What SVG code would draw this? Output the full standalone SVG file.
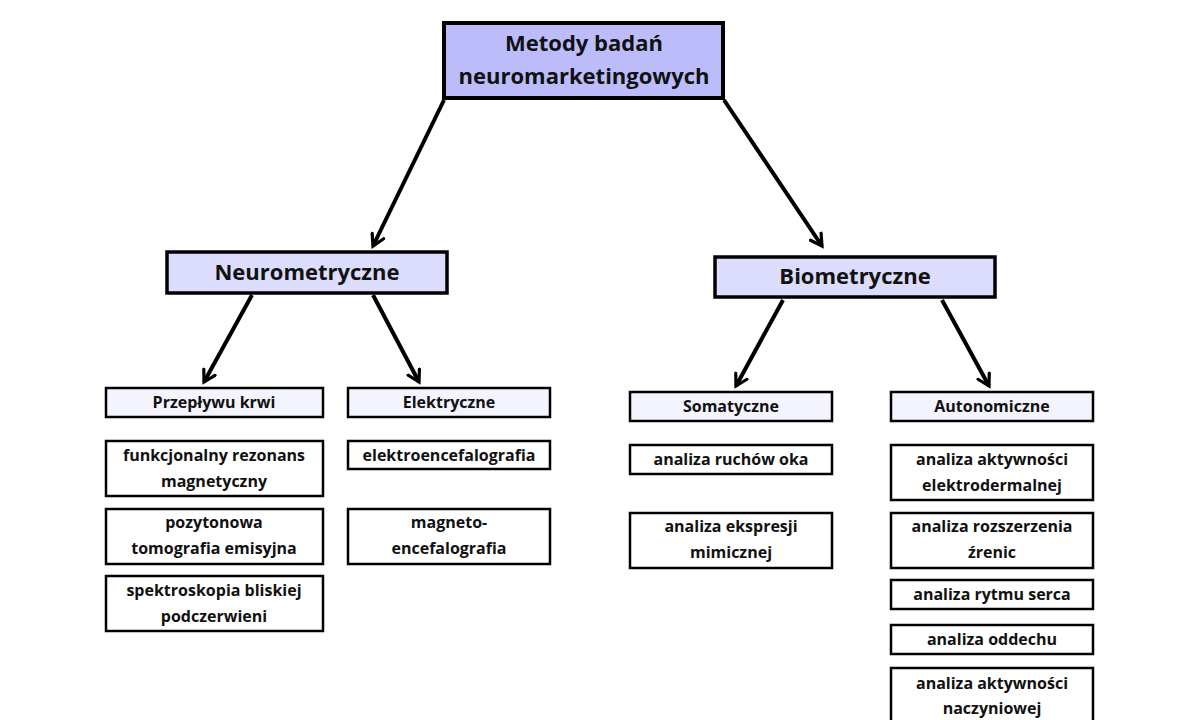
<svg xmlns="http://www.w3.org/2000/svg" width="1200" height="720" viewBox="0 0 1200 720">
<style>
text{font-family:"Open Sans","Noto Sans","DejaVu Sans",sans-serif;font-weight:bold;fill:#111;text-anchor:middle}
.b{stroke:#000;stroke-width:2.5;fill:#fff}
.l3{fill:#f4f4fe}
.l2{fill:#dcdcfc;stroke-width:3.5}
.l1{fill:#bcbcfb;stroke-width:4}
.s{font-size:16px}
.c line{stroke:#000;stroke-width:4}
</style>
<defs><marker id="a" viewBox="0 0 10 10" refX="8" refY="5" markerWidth="4" markerHeight="4" orient="auto" markerUnits="strokeWidth"><polyline points="1,1 8,5 1,9" fill="none" stroke="#000" stroke-width="2" stroke-linecap="round"/></marker></defs>
<rect width="1200" height="720" fill="#fff"/>
<g class="c">
<line x1="444" y1="100" x2="373" y2="246" marker-end="url(#a)"/>
<line x1="724" y1="100" x2="822" y2="246" marker-end="url(#a)"/>
<line x1="252" y1="295" x2="204" y2="382" marker-end="url(#a)"/>
<line x1="373" y1="295" x2="419" y2="382" marker-end="url(#a)"/>
<line x1="783" y1="300" x2="736" y2="386" marker-end="url(#a)"/>
<line x1="942" y1="300" x2="989" y2="386" marker-end="url(#a)"/>
</g>
<g id="root"><rect class="b l1" x="444" y="23" width="279" height="75"/><text x="584" y="51" font-size="22">Metody badań</text><text x="584" y="84" font-size="22">neuromarketingowych</text></g>
<g id="neuro"><rect class="b l2" x="167" y="252" width="280" height="41"/><text x="307" y="280" font-size="22">Neurometryczne</text></g>
<g id="bio"><rect class="b l2" x="715" y="257" width="280" height="40"/><text x="855" y="284" font-size="22">Biometryczne</text></g>
<g id="przeplyw"><rect class="b l3" x="106" y="388" width="217" height="29"/><text class="s" x="214" y="408">Przepływu krwi</text></g>
<g id="elektr"><rect class="b l3" x="348" y="388" width="202" height="29"/><text class="s" x="449" y="408">Elektryczne</text></g>
<g id="somat"><rect class="b l3" x="630" y="392" width="202" height="29"/><text class="s" x="731" y="412">Somatyczne</text></g>
<g id="auton"><rect class="b l3" x="891" y="392" width="202" height="29"/><text class="s" x="992" y="412">Autonomiczne</text></g>
<g id="fmri"><rect class="b" x="106" y="441" width="217" height="55"/><text class="s" x="214" y="461">funkcjonalny rezonans</text><text class="s" x="214" y="487">magnetyczny</text></g>
<g id="pet"><rect class="b" x="106" y="509" width="217" height="55"/><text class="s" x="214" y="528">pozytonowa</text><text class="s" x="214" y="554">tomografia emisyjna</text></g>
<g id="nirs"><rect class="b" x="106" y="576" width="217" height="55"/><text class="s" x="214" y="596">spektroskopia bliskiej</text><text class="s" x="214" y="622">podczerwieni</text></g>
<g id="eeg"><rect class="b" x="348" y="441" width="202" height="28"/><text class="s" x="449" y="461">elektroencefalografia</text></g>
<g id="meg"><rect class="b" x="348" y="509" width="202" height="55"/><text class="s" x="449" y="528">magneto-</text><text class="s" x="449" y="554">encefalografia</text></g>
<g id="oko"><rect class="b" x="630" y="445" width="202" height="29"/><text class="s" x="731" y="465">analiza ruchów oka</text></g>
<g id="mimika"><rect class="b" x="630" y="513" width="202" height="55"/><text class="s" x="731" y="532">analiza ekspresji</text><text class="s" x="731" y="558">mimicznej</text></g>
<g id="eda"><rect class="b" x="891" y="445" width="202" height="55"/><text class="s" x="992" y="465">analiza aktywności</text><text class="s" x="992" y="491">elektrodermalnej</text></g>
<g id="zrenice"><rect class="b" x="891" y="513" width="202" height="55"/><text class="s" x="992" y="532">analiza rozszerzenia</text><text class="s" x="992" y="558">źrenic</text></g>
<g id="serce"><rect class="b" x="891" y="580" width="202" height="29"/><text class="s" x="992" y="600">analiza rytmu serca</text></g>
<g id="oddech"><rect class="b" x="891" y="625" width="202" height="29"/><text class="s" x="992" y="645">analiza oddechu</text></g>
<g id="naczynia"><rect class="b" x="891" y="668" width="202" height="60"/><text class="s" x="992" y="689">analiza aktywności</text><text class="s" x="992" y="714">naczyniowej</text></g>
</svg>
